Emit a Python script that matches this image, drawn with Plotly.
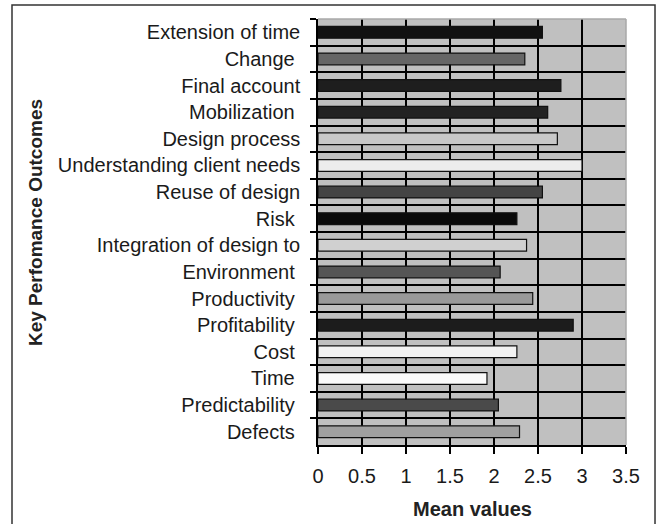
import plotly.graph_objects as go

# Data (top to bottom as shown)
outcomes = [
    "Extension of time", "Change\u00a0", "Final account", "Mobilization\u00a0",
    "Design process", "Understanding client needs", "Reuse of design", "Risk\u00a0",
    "Integration of design to", "Environment\u00a0", "Productivity\u00a0",
    "Profitability\u00a0", "Cost\u00a0", "Time\u00a0", "Predictability\u00a0", "Defects\u00a0",
]
mean_values = [2.55, 2.35, 2.76, 2.61, 2.72, 3.00, 2.55, 2.26,
               2.37, 2.07, 2.44, 2.90, 2.26, 1.92, 2.05, 2.29]
x_ticks = [0, 0.5, 1, 1.5, 2, 2.5, 3, 3.5]
x_tick_labels = ["0", "0.5", "1", "1.5", "2", "2.5", "3", "3.5"]

# Styles
bar_colors = ["#111111", "#666666", "#1e1e1e", "#222222", "#c8c8c8", "#ececec",
              "#444444", "#0a0a0a", "#d0d0d0", "#555555", "#999999", "#1c1c1c",
              "#f2f2f2", "#fafafa", "#4a4a4a", "#a0a0a0"]

FONT = "Liberation Sans, Arial, sans-serif"

fig = go.Figure(go.Bar(
    x=mean_values, y=outcomes, orientation="h",
    width=0.44,
    marker=dict(color=bar_colors, line=dict(color="#111111", width=1.2)),
    hoverinfo="x+y",
))

fig.update_layout(
    width=657, height=524,
    margin=dict(l=318, r=31, t=19, b=79),
    paper_bgcolor="white", plot_bgcolor="#c0c0c0",
    showlegend=False,
    font=dict(family=FONT, size=20, color="#1a1a1a"),
    xaxis=dict(
        range=[0, 3.5], tickvals=x_ticks, ticktext=x_tick_labels,
        showgrid=True, gridcolor="#000000", gridwidth=1.5,
        showline=True, linecolor="#000000", linewidth=1.5,
        ticks="outside", ticklen=7, tickcolor="#000000", tickwidth=1.5,
        zeroline=False, tickfont=dict(size=20, family=FONT, color="#1a1a1a"),
        ticklabelstandoff=5,
    ),
    yaxis=dict(
        type="category", autorange="reversed",
        tickson="boundaries",
        showgrid=True, gridcolor="#000000", gridwidth=1.5,
        showline=True, linecolor="#000000", linewidth=1.5,
        ticks="outside", ticklen=6, tickcolor="#000000", tickwidth=1.5,
        tickfont=dict(size=20, family=FONT, color="#1a1a1a"),
        ticklabelstandoff=12,
    ),
    shapes=[
        # outer frame
        dict(type="rect", xref="paper", yref="paper",
             x0=-0.9935, x1=1.0942, y0=-0.25, y1=1.0329,
             line=dict(color="#333333", width=1.5), layer="below"),
        # plot area top & right borders
        dict(type="line", xref="paper", yref="paper", x0=0, x1=1, y0=1, y1=1,
             line=dict(color="#a8a8a8", width=1.5), layer="above"),
        dict(type="line", xref="paper", yref="paper", x0=1, x1=1, y0=0, y1=1,
             line=dict(color="#a8a8a8", width=1.5), layer="above"),
    ],
    annotations=[
        dict(text="<b>Mean values</b>", xref="paper", yref="paper",
             x=0.5, y=-0.150, showarrow=False, xanchor="center", yanchor="middle",
             font=dict(size=20, family=FONT, color="#222222")),
        dict(text="<b>Key Perfomance Outcomes</b>", xref="paper", yref="paper",
             x=(35 - 318) / 308, y=0.521, showarrow=False, textangle=-90,
             xanchor="center", yanchor="middle",
             font=dict(size=19, family=FONT, color="#222222")),
    ],
)

fig.write_html(
    "out.html",
    config={"displayModeBar": False},
    post_script="document.body.style.margin='0';document.body.style.overflow='hidden';",
)
